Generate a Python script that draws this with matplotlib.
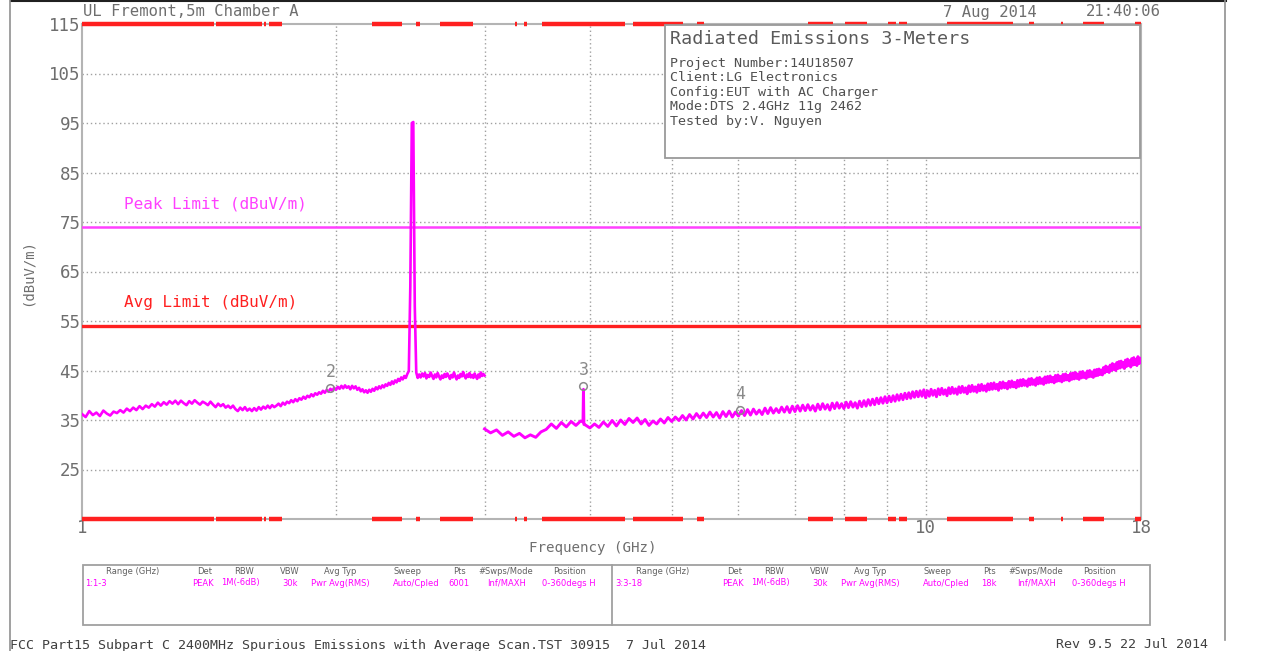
import numpy as np
import matplotlib
matplotlib.use("Agg")
import matplotlib.pyplot as plt
from matplotlib.patches import Rectangle
from matplotlib.lines import Line2D

W, H = 1272, 651

# ---- data ----
# sweep 1: 1-3 GHz, 0.01 GHz steps
seg1_start, seg1_stop, seg1_step = 1.0, 3.0, 0.01
seg1_level = [
    36.2, 35.6, 36.8, 36.0, 36.5, 35.8, 36.9, 36.3, 35.9, 36.7,
    36.4, 37.0, 36.5, 37.3, 36.8, 37.5, 37.0, 37.8, 37.2, 37.9,
    37.5, 38.2, 37.7, 38.5, 37.9, 38.6, 38.1, 38.8, 38.3, 38.9,
    38.2, 38.9, 38.4, 38.0, 38.8, 38.3, 39.0, 38.5, 38.1, 38.7,
    38.4, 38.0, 38.7, 38.1, 37.6, 38.3, 37.8, 38.2, 37.5, 37.9,
    37.4, 37.9, 37.2, 36.8, 37.5, 37.0, 37.6, 36.9, 37.3, 36.8,
    37.4, 36.9, 37.6, 37.1, 37.7, 37.3, 37.9, 37.4, 38.0, 37.6,
    37.9, 38.3, 37.8, 38.5, 38.1, 38.7, 38.4, 39.0, 38.6, 39.2,
    38.8, 39.4, 39.1, 39.7, 39.3, 39.9, 39.6, 40.2, 39.8, 40.4,
    40.1, 40.6, 40.3, 40.9, 40.5, 41.1, 40.7, 41.3, 40.9, 41.5,
    41.1, 41.7, 41.3, 41.9, 41.4, 42.0, 41.5, 41.8, 41.2, 41.9,
    41.4, 41.8, 41.1, 41.5, 40.8, 41.2, 40.6, 41.0, 40.5, 41.1,
    40.7, 41.3, 40.9, 41.6, 41.2, 41.8, 41.4, 42.0, 41.6, 42.2,
    41.9, 42.5, 42.1, 42.8, 42.3, 43.0, 42.6, 43.3, 42.9, 43.6,
    43.2, 43.9, 43.5, 44.3, 44.9, 62.0, 95.0, 95.2, 58.0, 44.6,
    43.5, 44.2, 43.6, 44.4, 43.8, 44.5, 43.4, 44.1, 43.7, 44.6,
    43.9, 43.3, 44.2, 43.6, 44.5, 43.8, 43.2, 44.0, 43.5, 44.3,
    43.7, 44.4, 43.9, 43.3, 44.1, 43.6, 44.6, 43.8, 43.2, 44.0,
    43.5, 44.3, 43.8, 44.7, 43.9, 43.4, 44.2, 43.7, 44.5, 43.6,
    44.1, 43.5, 44.4, 43.8, 43.3, 44.2, 43.6, 44.6, 43.9, 44.3,
    44.0,
]

# sweep 2: 3-18 GHz, 0.05 GHz steps
seg2_start, seg2_stop, seg2_step = 3.0, 18.0, 0.05
seg2_level = [
    33.2, 32.4, 33.0, 31.9, 32.6, 31.7, 32.3, 31.4, 32.0, 31.5, 32.6, 33.1, 34.2, 33.3, 34.5, 33.6, 34.7, 33.9, 34.8, 34.0,
    33.4, 34.2, 33.5, 34.6, 33.7, 34.9, 33.8, 35.0, 34.1, 35.3, 34.5, 35.4, 34.2, 35.1, 33.9, 34.8, 34.2, 35.2, 34.4, 35.5,
    34.7, 35.6, 34.9, 35.9, 35.0, 36.1, 35.2, 36.3, 35.4, 36.4, 35.5, 36.6, 35.6, 36.5, 35.4, 36.7, 35.7, 36.8, 35.6, 36.6,
    35.8, 36.9, 35.9, 37.1, 36.0, 37.2, 36.2, 37.0, 36.1, 37.4, 36.3, 37.5, 36.4, 37.3, 36.5, 37.6, 36.6, 37.7, 36.5, 37.8,
    36.7, 37.9, 36.8, 38.0, 36.9, 38.1, 37.0, 37.9, 36.8, 38.2, 37.1, 38.3, 37.2, 38.1, 37.0, 38.4, 37.3, 38.5, 37.4, 38.3,
    37.3, 38.6, 37.5, 38.7, 37.6, 38.5, 37.4, 38.8, 37.7, 38.9, 37.8, 39.1, 38.0, 39.2, 38.1, 39.4, 38.3, 39.5, 38.4, 39.7,
    38.5, 39.8, 38.7, 39.9, 38.8, 40.1, 39.0, 40.2, 39.1, 40.4, 39.3, 40.5, 39.4, 40.7, 39.6, 40.8, 39.7, 40.9, 39.8, 41.1,
    39.5, 40.9, 39.8, 41.2, 40.0, 41.0, 39.7, 41.3, 40.1, 41.4, 40.2, 41.1, 39.9, 41.5, 40.3, 41.6, 40.4, 41.3, 40.2, 41.7,
    40.5, 41.8, 40.6, 41.5, 40.3, 41.9, 40.7, 42.0, 40.8, 41.7, 40.6, 42.1, 40.9, 42.2, 41.0, 41.9, 40.8, 42.3, 41.1, 42.4,
    41.2, 42.5, 41.3, 42.2, 41.0, 42.6, 41.4, 42.7, 41.5, 42.4, 41.3, 42.8, 41.6, 42.9, 41.7, 42.6, 41.5, 43.0, 41.8, 43.1,
    41.9, 43.2, 42.0, 42.9, 41.8, 43.3, 42.1, 43.4, 42.2, 43.1, 42.0, 43.5, 42.3, 43.6, 42.4, 43.3, 42.2, 43.7, 42.5, 43.8,
    42.6, 43.9, 42.7, 43.6, 42.5, 44.0, 42.8, 44.1, 42.9, 43.8, 42.7, 44.2, 43.0, 44.3, 43.1, 44.0, 42.9, 44.4, 43.2, 44.5,
    43.3, 44.6, 43.4, 44.3, 43.2, 44.7, 43.5, 44.8, 43.6, 44.5, 43.4, 44.9, 43.7, 45.0, 43.8, 44.7, 43.6, 45.1, 43.9, 45.2,
    44.0, 45.3, 44.2, 45.1, 44.1, 45.6, 44.5, 45.9, 44.8, 45.7, 44.6, 46.1, 45.0, 46.4, 45.2, 46.2, 45.0, 46.6, 45.4, 46.8,
    45.5, 46.9, 45.7, 46.6, 45.4, 47.1, 45.8, 47.3, 46.0, 47.0, 45.7, 47.4, 46.1, 47.6, 46.2, 47.2, 46.0, 47.8, 46.4, 47.5,
    46.6,
]

# narrow spur near 3.93 GHz
spur_freq = [3.925, 3.93, 3.935]
spur_level = [34.6, 41.2, 34.1]

# markers
marker_id = ["2", "3", "4"]
marker_freq = [1.97, 3.93, 6.03]
marker_level = [41.5, 41.9, 37.1]

peak_limit = 74
avg_limit = 54

# red scan-segment bars along the top/bottom edges (GHz)
bar_spans = [(1.0, 1.434), (1.442, 1.635), (1.644, 1.653), (1.666, 1.726),
             (2.207, 2.395), (2.489, 2.516), (2.658, 2.908), (3.262, 3.280),
             (3.342, 3.370), (3.511, 4.402), (4.499, 5.157), (5.358, 5.462),
             (7.254, 7.769), (8.027, 8.522), (9.024, 9.223), (9.299, 9.504),
             (10.60, 12.69), (13.26, 13.44), (14.47, 14.55), (15.37, 16.28),
             (17.71, 18.0)]

grid_levels = [25, 35, 45, 55, 65, 75, 85, 95, 105]
grid_freqs = [2, 3, 4, 5, 6, 7, 8, 9, 10]

info_title = "Radiated Emissions 3-Meters"
info_lines = ["Project Number:14U18507", "Client:LG Electronics",
              "Config:EUT with AC Charger", "Mode:DTS 2.4GHz 11g 2462",
              "Tested by:V. Nguyen"]

table_header = ["Range (GHz)", "Det", "RBW", "VBW", "Avg Typ", "Sweep",
                "Pts", "#Swps/Mode", "Position"]
table_rows = [["1:1-3", "PEAK", "1M(-6dB)", "30k", "Pwr Avg(RMS)",
               "Auto/Cpled", "6001", "Inf/MAXH", "0-360degs H"],
              ["3:3-18", "PEAK", "1M(-6dB)", "30k", "Pwr Avg(RMS)",
               "Auto/Cpled", "18k", "Inf/MAXH", "0-360degs H"]]

# ---- drawing ----
MONO = "DejaVu Sans Mono"
GREY = "#6e6e6e"
MAG = "#ff00ff"
RED = "#ff2020"

fig = plt.figure(figsize=(W / 100, H / 100), dpi=100)
fig.patch.set_facecolor("white")

def fx(x):
    return x / W

def fy(y):
    return 1 - y / H

ax_l, ax_r, ax_t, ax_b = 82, 1141, 24, 519
ax = fig.add_axes([fx(ax_l), fy(ax_b), (ax_r - ax_l) / W, (ax_b - ax_t) / H])
ax.set_xscale("log")
ax.set_xlim(1, 18)
ax.set_ylim(15, 115)

# info box corners (pixels) and the same corners in data units
box_l, box_r, box_t, box_b = 665, 1140, 25, 158
to_data = ax.transData.inverted()
box_f0, box_v0 = to_data.transform(fig.transFigure.transform((fx(box_l), fy(box_b))))

# dotted grid, kept out of the info box
for v in grid_levels:
    x_end = box_f0 if v > box_v0 else 18
    ax.plot([1, x_end], [v, v], color="#a0a0a0", lw=1, ls=(0, (1, 2)), zorder=1)
for f in grid_freqs:
    y_end = box_v0 if f > box_f0 else 115
    ax.plot([f, f], [15, y_end], color="#a0a0a0", lw=1, ls=(0, (1, 2)), zorder=1)

ax.set_yticks(list(range(25, 116, 10)))
ax.set_yticklabels([str(v) for v in range(25, 116, 10)], fontfamily=MONO,
                   fontsize=12.5, color=GREY)
ax.set_xticks([1, 10, 18])
ax.set_xticklabels(["1", "10", "18"], fontfamily=MONO, fontsize=12.5, color=GREY)
ax.xaxis.set_minor_locator(matplotlib.ticker.NullLocator())
ax.tick_params(axis="y", length=0, pad=1)
ax.tick_params(axis="x", length=0, pad=0)
for s in ax.spines.values():
    s.set_color("#b4b4b4")
    s.set_linewidth(1.5)

# trace
f1 = np.round(np.arange(seg1_start, seg1_stop + seg1_step / 2, seg1_step), 4)
ax.plot(f1, seg1_level, color=MAG, lw=1.9, zorder=4)
f2 = np.round(np.arange(seg2_start, seg2_stop + seg2_step / 2, seg2_step), 4)
f2_all = np.concatenate([f2, spur_freq])
l2_all = np.concatenate([seg2_level, spur_level])
order = np.argsort(f2_all)
ax.plot(f2_all[order], l2_all[order], color=MAG, lw=2.1, zorder=4)

# limits
ax.axhline(peak_limit, color="#ff40ff", lw=1.8, zorder=3)
ax.axhline(avg_limit, color=RED, lw=2.4, zorder=3)
ax.text(1.12, peak_limit + 3.2, "Peak Limit (dBuV/m)", color="#ff40ff",
        fontfamily=MONO, fontsize=11.5, va="bottom")
ax.text(1.12, avg_limit + 3.2, "Avg Limit (dBuV/m)", color=RED,
        fontfamily=MONO, fontsize=11.5, va="bottom")

# markers
for mid, mf, ml in zip(marker_id, marker_freq, marker_level):
    ax.plot(mf, ml, marker="o", ms=5.5, mfc="none", mec="#8a8a8a", mew=1.1,
            zorder=5)
    ax.annotate(mid, (mf, ml), xytext=(0, 5), textcoords="offset points",
                ha="center", va="bottom", color="#8a8a8a", fontfamily=MONO,
                fontsize=12, zorder=5)

# red scan-segment bars on top and bottom edges
for a, b in bar_spans:
    for yv in (115, 15):
        ax.plot([a, b], [yv, yv], color=RED, lw=3.2, solid_capstyle="butt",
                clip_on=False, zorder=6)

# info box
ax.add_patch(Rectangle((fx(box_l), fy(box_b)), (box_r - box_l) / W,
                       (box_b - box_t) / H, transform=fig.transFigure,
                       facecolor="white", edgecolor="#9a9a9a", lw=1.3,
                       zorder=7, clip_on=False))
ax.text(fx(670), fy(39), info_title, transform=fig.transFigure,
        fontfamily=MONO, fontsize=13.2, color="#5a5a5a", va="center", zorder=8)
for i, line in enumerate(info_lines):
    ax.text(fx(670), fy(63 + i * 14.6), line, transform=fig.transFigure,
            fontfamily=MONO, fontsize=9.6, color="#505050", va="center",
            zorder=8)

# header / axis labels
fig.text(fx(83), fy(12), "UL Fremont,5m Chamber A", fontfamily=MONO,
         fontsize=11.2, color=GREY, va="center")
fig.text(fx(943), fy(12), "7 Aug 2014", fontfamily=MONO, fontsize=11.2,
         color=GREY, va="center")
fig.text(fx(1086), fy(12), "21:40:06", fontfamily=MONO, fontsize=11.2,
         color=GREY, va="center")
fig.text(fx(593), fy(548), "Frequency (GHz)", fontfamily=MONO, fontsize=10.2,
         color=GREY, ha="center", va="center")
fig.text(fx(28), fy(272), "(dBuV/m)", fontfamily=MONO, fontsize=10,
         color=GREY, ha="center", va="center", rotation=90)

# outer frame lines
fig.add_artist(Line2D([fx(11), fx(1226)], [fy(1), fy(1)], color="#202020",
                      lw=1.5, transform=fig.transFigure))
fig.add_artist(Line2D([fx(10), fx(10)], [fy(0), fy(651)], color="#909090",
                      lw=1.2, transform=fig.transFigure))
fig.add_artist(Line2D([fx(1225), fx(1225)], [fy(0), fy(640)], color="#909090",
                      lw=1.2, transform=fig.transFigure))

# bottom settings table
tb_l, tb_r, tb_t, tb_b, tb_mid = 83, 1150, 565, 625, 612
fig.add_artist(Rectangle((fx(tb_l), fy(tb_b)), (tb_r - tb_l) / W,
                         (tb_b - tb_t) / H, transform=fig.transFigure,
                         facecolor="white", edgecolor="#a0a0a0", lw=1.3))
fig.add_artist(Line2D([fx(tb_mid), fx(tb_mid)], [fy(tb_t), fy(tb_b)],
                      color="#a0a0a0", lw=1.3, transform=fig.transFigure))
col_x = [133, 205, 244, 290, 340, 408, 459, 506, 570]
val_x = [85, 203, 240, 290, 340, 416, 459, 507, 569]
for half, row in enumerate(table_rows):
    off = half * 530
    for cx, name in zip(col_x, table_header):
        fig.text(fx(cx + off), fy(572), name, fontsize=6, color="#606060",
                 ha="center", va="center")
    for j, (vx, val) in enumerate(zip(val_x, row)):
        fig.text(fx(vx + off), fy(583), val, fontsize=6, color=MAG,
                 ha="left" if j == 0 else "center", va="center")

# footer
fig.text(fx(10), fy(645), "FCC Part15 Subpart C 2400MHz Spurious Emissions "
         "with Average Scan.TST 30915  7 Jul 2014", fontfamily=MONO,
         fontsize=9.6, color="#404040", va="center")
fig.text(fx(1208), fy(645), "Rev 9.5 22 Jul 2014", fontfamily=MONO,
         fontsize=9.6, color="#404040", ha="right", va="center")

fig.savefig("out.png", dpi=100)
